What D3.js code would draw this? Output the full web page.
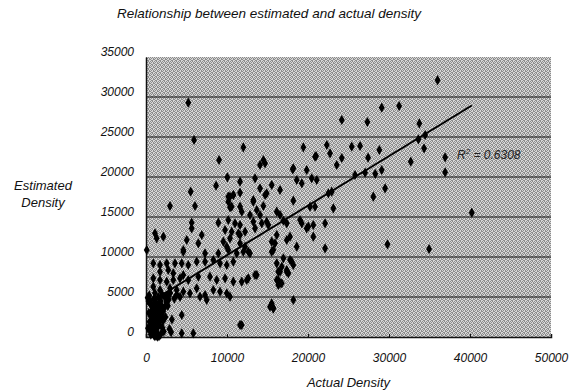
<!DOCTYPE html>
<html>
<head>
<meta charset="utf-8">
<script src="https://cdn.jsdelivr.net/npm/d3@7"></script>
<style>
  body { margin: 0; background: #fff; }
  svg text { font-family: "Liberation Sans", Arial, sans-serif; font-style: italic; fill: #111; }
</style>
</head>
<body>
<figure id="scatter" style="margin:0"></figure>
<script>
// estimated vs actual density
const actual = [
  36000, 29100, 31250, 24170, 27330, 33750, 34460, 33630, 34330, 25400, 26430, 28810, 24170, 27420,
  36930, 36930, 32690, 29100, 28300, 25810, 27050, 29520, 28070, 40220, 29810, 34950,
  2960, 6050, 10370, 11610, 13250, 14490, 18190, 20870, 23130, 11820, 12840, 13670, 14080, 16140, 16550,
  5640, 5640, 8930, 10160, 10990, 11400, 10580, 9760, 11610, 13250, 14290, 13460, 16960, 17380, 19020,
  19230, 20040, 20660, 22110, 1110, 2140, 1320, 5030, 6460, 6880, 4610, 4610, 9550, 10370, 9970, 11610,
  12230, 12630, 12840, 15520, 15930, 16140, 15720, 15520, 17380, 18610, 19830, 20660, 22110, 90, 7290,
  8930, 10160, 11200, 12020, 900, 1730, 2560, 3580, 4410, 5220, 6260, 7290, 8310, 9140, 9970, 10780,
  16140, 16960, 17380, 16550, 17990, 16330, 16760, 1730, 2750, 3370, 4610, 900, 1730, 2560, 3370, 4200,
  5220, 6460, 7900, 8730, 9760, 10780, 11820, 12630, 13670, 900, 1730, 2960, 3790, 4610, 5430, 6260,
  6670, 7290, 7500, 8310, 9140, 9970, 10370, 15520, 15720, 18190, 11610, 4410, 4410, 5840,
  14490, 14080, 14700, 21000, 22720, 23550, 18190, 19840, 13460, 18610, 19230, 20460, 21080, 11610,
  15520, 14080, 14900, 14700, 16550, 22930, 22520, 13250, 20250, 14900, 15100, 17780, 11610, 12230,
  5220, 5930, 12020, 9020, 19430, 22320, 20870, 18110, 10040, 8650, 5520, 11610, 10160, 10780,
  10370, 10780, 10160, 10580, 17780, 18190, 16760, 16330, 17380, 17580, 13460, 12440, 16140, 16550,
  16330, 15520, 15720, 15310, 11820,
  600, 800, 1000, 1200, 1400, 700, 900, 1100, 1300, 1500, 600, 800, 1000, 1200, 1400, 1600, 700, 900,
  1100, 1300, 1500, 1800, 500, 200, 400, 1000, 1700, 1900, 2100, 2300, 2500, 2000, 2200, 1800, 1600,
  1400, 1200, 1000, 800, 600, 1700, 2600, 2800, 3000, 1500, 1100, 300, 2400, 2000, 1300, 900, 700,
  1100, 1500, 1300, 2700, 3200, 2900, 3100, 1600, 2100, 1900, 2300, 3500, 3800, 4200, 250, 450, 650,
  850, 1050, 1250, 350, 550, 750, 950
];
const estimated = [
  32100, 28660, 28875, 27125, 26875, 26700, 25250, 24710, 23590, 23790, 23875, 23375, 22375, 22410,
  22460, 20590, 21910, 20875, 20400, 20250, 20540, 18590, 17540, 15540, 11590, 11000,
  16375, 16375, 16210, 16290, 16910, 16375, 17040, 16290, 16090, 15660, 15250, 15875, 15250, 15660, 15250,
  14290, 13590, 14290, 14625, 14210, 12960, 13160, 13375, 14000, 14410, 14210, 13590, 14540, 14210, 14625,
  14210, 13790, 14000, 14210, 12960, 12540, 12340, 12125, 11710, 12750, 10875, 10660, 11910, 12340, 11290, 11710,
  11290, 10660, 10460, 11910, 11710, 12750, 10875, 10660, 12125, 11290, 13590, 12540, 11090, 10875, 10460,
  10460, 10875, 10460, 10660, 9210, 9000, 9210, 9210, 9210, 9000, 9410, 9410, 9625, 9210, 9000, 9410,
  9210, 9840, 8375, 8160, 9410, 7125, 6710, 8160, 8375, 7960, 7750, 7340, 7125, 6910, 7125, 7340,
  7125, 7540, 7540, 7125, 7340, 6910, 6910, 7340, 7750, 6290, 5875, 6090, 5875, 5660, 5460, 6090,
  5040, 5250, 4625, 5875, 5660, 5460, 5040, 4000, 3590, 4625, 1500, 2750, 460, 460,
  22125, 21500, 21710, 22625, 22960, 21500, 21090, 20875, 19840, 19625, 19210, 19840, 19625, 19410,
  19000, 18590, 17960, 17750, 18375, 18160, 17960, 17125, 16290, 14410, 14000, 12540, 12750, 13160,
  29290, 24625, 23710, 22125, 23710, 24000, 22540, 20960, 19960, 18910, 18160, 18040, 17540, 17750,
  17540, 17750, 16910, 16290, 9625, 9000, 8790, 8160, 8160, 7960, 7750, 7125, 7125, 6710,
  6500, 4210, 3590, 3790, 1500,
  300, 500, 200, 800, 400, 1200, 1500, 1000, 1800, 1300, 2000, 2500, 2200, 2800, 2400, 3000, 3300, 3800,
  3500, 4200, 3900, 4500, 4600, 4900, 5200, 4800, 2000, 2600, 3200, 3700, 4400, 1200, 700, 300, 100,
  50, 1300, 2900, 3100, 4000, 3600, 5200, 4700, 5500, 5000, 5500, 4500, 2500, 5300, 600, 600, 700,
  100, 2100, 3300, 3900, 2200, 1000, 600, 1600, 2000, 4000, 5000, 4800, 5300, 5000, 1100, 1900, 2700,
  3400, 4300, 200, 3000, 700, 2400, 1700
];
const xTicks = [0, 10000, 20000, 30000, 40000, 50000];
const yTicks = [0, 5000, 10000, 15000, 20000, 25000, 30000, 35000];
const trendSlope = 0.619;
const trendIntercept = 4040;
const rSquared = "0.6308";

const W = 577, H = 391;
const margin = {left: 146, right: 26, top: 57, bottom: 54};
const width = W - margin.left - margin.right;
const height = H - margin.top - margin.bottom;

const svg = d3.select("figure#scatter")
  .append("svg")
  .attr("width", W)
  .attr("height", H);

// speckled grey fill, like the scanned original
const defs = svg.append("defs");
const pat = defs.append("pattern")
  .attr("id", "dots")
  .attr("width", 4).attr("height", 4)
  .attr("patternUnits", "userSpaceOnUse");
pat.append("rect").attr("width", 4).attr("height", 4).attr("fill", "#d6d6d6");
[[0, 0], [2, 0], [1, 1], [3, 1], [0, 2], [3, 2], [1, 3], [2, 3]].forEach(p => {
  pat.append("rect").attr("x", p[0]).attr("y", p[1]).attr("width", 1).attr("height", 1).attr("fill", "#8c8c8c");
});

const g = svg.append("g")
  .attr("transform", "translate(" + margin.left + "," + margin.top + ")");

const x = d3.scaleLinear().domain([0, 50000]).range([0, width]);
const y = d3.scaleLinear().domain([0, 35000]).range([height, 0]);

g.append("rect")
  .attr("width", width)
  .attr("height", height)
  .attr("fill", "url(#dots)");

// gridlines
g.append("g")
  .selectAll("line")
  .data(yTicks.filter(d => d > 0 && d < 35000))
  .enter()
  .append("line")
  .attr("x1", 0).attr("x2", width)
  .attr("y1", d => y(d)).attr("y2", d => y(d))
  .attr("stroke", "#111")
  .attr("stroke-width", 1);

// Add X axis
const xAxis = g.append("g")
  .attr("transform", "translate(0," + height + ")")
  .call(d3.axisBottom(x).tickValues(xTicks).tickFormat(d3.format("d")).tickSize(-3).tickPadding(14));
xAxis.select(".domain").attr("stroke", "#111").attr("stroke-width", 1.5);
xAxis.selectAll("line").attr("stroke", "#111");
xAxis.selectAll("text").style("font-size", "12px").attr("dy", "0.9em");

// Add Y axis
const yAxis = g.append("g")
  .call(d3.axisLeft(y).tickValues(yTicks).tickFormat(d3.format("d")).tickSize(0).tickPadding(12));
yAxis.select(".domain").attr("stroke", "#111").attr("stroke-width", 1.5);
yAxis.selectAll("text").style("font-size", "12px").attr("dy", "-0.1em");

// Add dots
const pts = actual.map((a, i) => [a, estimated[i]]);
g.append("g")
  .selectAll("path")
  .data(pts)
  .enter()
  .append("path")
  .attr("transform", d => "translate(" + x(d[0]) + "," + y(d[1]) + ")")
  .attr("d", d3.symbol().type(d3.symbolDiamond).size(30))
  .attr("fill", "#000");

// trendline over the data range
const xExt = d3.extent(actual);
g.append("line")
  .attr("x1", x(xExt[0])).attr("y1", y(trendIntercept + trendSlope * xExt[0]))
  .attr("x2", x(xExt[1])).attr("y2", y(trendIntercept + trendSlope * xExt[1]))
  .attr("stroke", "#000")
  .attr("stroke-width", 2);

const rt = g.append("text")
  .attr("x", x(38400))
  .attr("y", y(22300))
  .style("font-size", "12px")
  .style("fill", "#222");
rt.append("tspan").text("R");
rt.append("tspan").attr("dy", -5).style("font-size", "8px").text("2");
rt.append("tspan").attr("dy", 5).text(" = " + rSquared);

// titles
svg.append("text")
  .attr("x", 269).attr("y", 18)
  .attr("text-anchor", "middle")
  .style("font-size", "13.5px")
  .text("Relationship between estimated and actual density");

svg.append("text")
  .attr("x", margin.left + width / 2).attr("y", 387)
  .attr("text-anchor", "middle")
  .style("font-size", "13px")
  .text("Actual Density");

const yl = svg.append("text")
  .attr("text-anchor", "middle")
  .style("font-size", "13px");
yl.append("tspan").attr("x", 43).attr("y", 190).text("Estimated");
yl.append("tspan").attr("x", 43).attr("y", 207).text("Density");
</script>
</body>
</html>
